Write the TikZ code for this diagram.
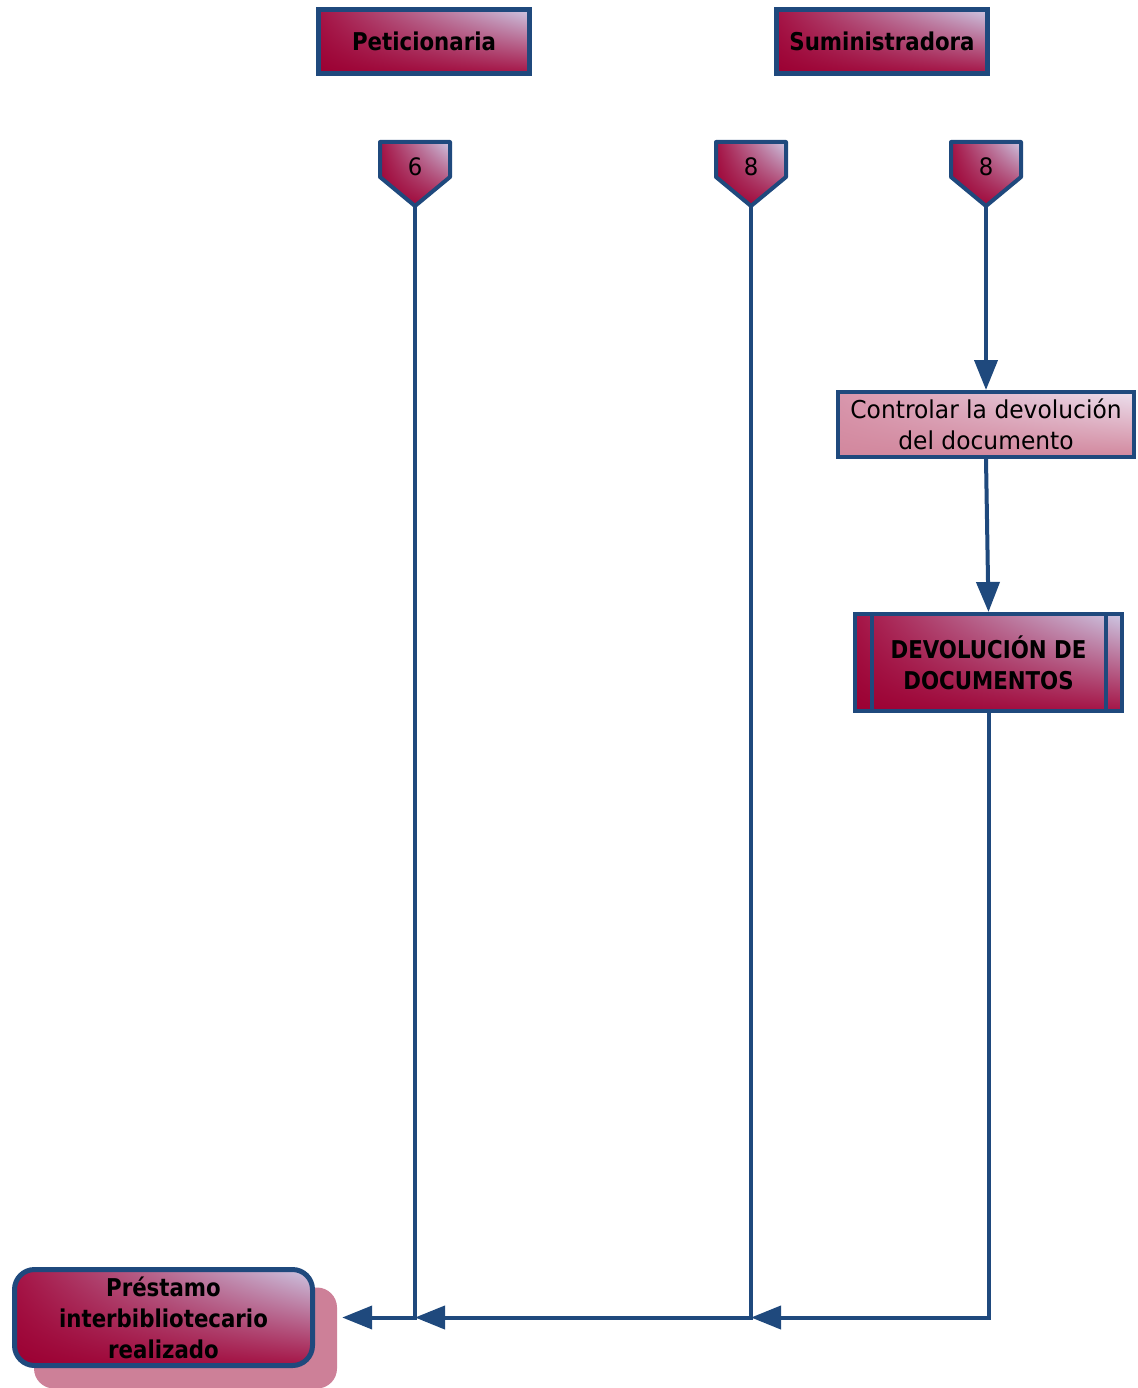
\documentclass[tikz,border=0pt]{standalone}
\usepackage{fontspec}
\setmainfont{DejaVu Sans}[FakeStretch=0.95, BoldFeatures={FakeStretch=0.87}]
\usetikzlibrary{arrows.meta,shadings,calc}

\definecolor{flowblue}{RGB}{31,73,125}
\definecolor{wine}{RGB}{155,0,50}
\definecolor{winemid}{RGB}{165,20,70}
\definecolor{lilac}{RGB}{205,200,228}
\definecolor{rose}{RGB}{210,135,157}
\definecolor{rosemid}{RGB}{216,150,172}
\definecolor{roselight}{RGB}{236,224,238}
\definecolor{shadowrose}{RGB}{205,128,152}

\tikzset{
  winefill/.style={shade, lower left=wine, upper right=lilac, upper left=winemid, lower right=winemid},
  rosefill/.style={shade, lower left=rose, upper right=roselight, upper left=rosemid, lower right=rose},
  boldtext/.style={font=\bfseries\fontsize{24.5}{31}\selectfont, text=black, align=center, inner sep=0pt},
  lane/.style={draw=flowblue, line width=5pt, winefill, boldtext, minimum width=211pt, minimum height=64pt},
  offpage/.style={draw=flowblue, line width=4pt, line join=round, winefill},
  pagenum/.style={font=\fontsize{24}{28}\selectfont, text=black, inner sep=0pt},
  taskbox/.style={draw=flowblue, line width=4pt, rosefill, font=\fontsize{24.6}{31}\selectfont, text=black, align=center, inner sep=0pt, minimum width=296pt, minimum height=65pt},
  subbox/.style={draw=flowblue, line width=4pt, winefill, boldtext, minimum width=267pt, minimum height=97pt},
  endbox/.style={draw=flowblue, line width=5pt, rounded corners=20pt, winefill, boldtext, minimum width=298pt, minimum height=96pt},
  endshadow/.style={fill=shadowrose, rounded corners=20pt, minimum width=303pt, minimum height=101pt, inner sep=0pt},
  flow/.style={draw=flowblue, line width=4pt, -{Triangle[length=30pt,width=23pt]}},
  joinline/.style={draw=flowblue, line width=4pt}
}

\begin{document}
\begin{tikzpicture}[x=1pt,y=-1pt]
\useasboundingbox (0,0) rectangle (1137,1388);

% lane headers
\node[lane] (pet) at (424,41.5) {Peticionaria};
\node[lane] (sum) at (882,41.5) {Suministradora};

% off-page connectors
\foreach \n/\cx/\lab in {c6/415/6, c8a/751/8, c8b/986/8} {
  \path[offpage] (\cx-35,142) -- (\cx+35,142) -- (\cx+35,177) -- (\cx,206) -- (\cx-35,177) -- cycle;
  \node[pagenum] (\n) at (\cx,167) {\lab};
  \coordinate (\n-tip) at (\cx,206);
}

% activity and sub-process
\node[taskbox] (ctl) at (986,424.5) {Controlar la devolución\\del documento};
\node[subbox] (sub) at (988.5,662.5) {DEVOLUCIÓN DE\\DOCUMENTOS};
\draw[joinline] ([xshift=19pt]sub.north west) -- ([xshift=19pt]sub.south west);
\draw[joinline] ([xshift=-18pt]sub.north east) -- ([xshift=-18pt]sub.south east);

% final event with its shadow
\node[endshadow] (doneshadow) at (185.5,1338) {};
\node[endbox] (done) at (163.5,1317.5) {Préstamo\\interbibliotecario\\realizado};

% junction points on the bottom line
\coordinate (j8) at (c8a-tip |- done.east);
\coordinate (j6) at (c6-tip |- done.east);

% connectors
\draw[flow] (c8b-tip) -- (ctl.north);
\draw[flow] (ctl.south) -- (sub.north);
\draw[flow] (sub.south) |- (j8);
\draw[flow] (c8a-tip) -- (j8) -- (j6);
\draw[flow, shorten >=5pt] (c6-tip) -- (j6) -- (doneshadow.east |- j6);
\end{tikzpicture}
\end{document}
